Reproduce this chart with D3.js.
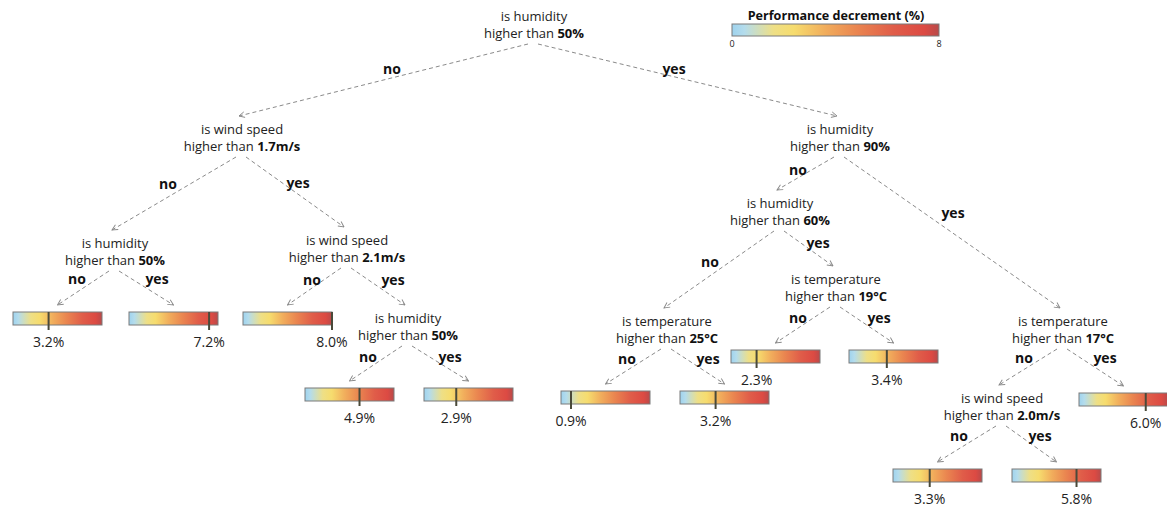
<!DOCTYPE html>
<html><head><meta charset="utf-8">
<script src="https://cdn.jsdelivr.net/npm/d3@7"></script>
<style>
html,body{margin:0;padding:0;background:#fff;}
svg{display:block;font-family:"Open Sans",sans-serif;}
</style></head>
<body><svg id="chart" width="1167" height="508"></svg>
<script>
// ---------- DATA ----------
const nodeIds       = ["root","n1","n2","n3","n4","n5","n6","n7","n8","n9","n10"];
const nodeParents   = [null,"root","root","n1","n1","n4","n2","n2","n6","n6","n7"];
const nodeBranches  = [null,"no","yes","no","yes","yes","no","yes","no","yes","no"];
const nodeFeatures  = ["humidity","wind speed","humidity","humidity","wind speed","humidity","humidity","temperature","temperature","temperature","wind speed"];
const nodeThresholds= ["50%","1.7m/s","90%","50%","2.1m/s","50%","60%","17°C","25°C","19°C","2.0m/s"];

const leafIds       = ["L1","L2","L3","L4","L5","L6","L7","L8","L9","L10","L11","L12"];
const leafParents   = ["n3","n3","n4","n5","n5","n8","n8","n9","n9","n7","n10","n10"];
const leafBranches  = ["no","yes","no","no","yes","no","yes","no","yes","yes","no","yes"];
const leafValues    = [3.2,7.2,8.0,4.9,2.9,0.9,3.2,2.3,3.4,6.0,3.3,5.8];

const legendTitle   = "Performance decrement (%)";
const legendDomain  = [0,8];
const legendTicks   = [0,8];

// ---------- LAYOUT (positions only) ----------
const nodePos = { // [center x, baseline of first line]
  root:[534,21], n1:[242,134], n2:[840,134], n3:[115,248], n4:[347,245],
  n5:[408,323], n6:[780,208], n7:[1063,326], n8:[667,326], n9:[836,284], n10:[1002,403]
};
const leafPos = { // [left x, top y]
  L1:[13,312], L2:[129,312], L3:[243,312], L4:[305,388], L5:[424,388],
  L6:[561,391], L7:[680,391], L8:[731,350], L9:[849,350], L10:[1079,393],
  L11:[893,469], L12:[1012,469]
};
const branchLabelPos = { // keyed by child id
  n1:[392,69], n2:[674,69], n3:[168,184], n4:[298,183], L1:[77,279], L2:[157,279],
  L3:[312,280], n5:[393,280], L4:[368,357], L5:[450,357], n6:[798,170], n7:[953,213],
  n8:[710,262], n9:[818,243], L6:[627,359], L7:[708,359], L8:[798,318], L9:[879,318],
  n10:[1024,358], L10:[1105,358], L11:[959,436], L12:[1040,436]
};
const barW = 89, barH = 13, lineGap = 17;

// ---------- BUILD ----------
const svg = d3.select("#chart");
const defs = svg.append("defs");

const gradStops = [
  [0,"#9fd3ee"],[0.06,"#b4dcec"],[0.2,"#eedf86"],[0.3,"#f6dc6e"],[0.45,"#f1ad5c"],
  [0.6,"#ea8650"],[0.78,"#e05d49"],[0.93,"#dc4a43"],[1,"#b84a4a"]
];
const grad = defs.append("linearGradient").attr("id","pd").attr("x1","0%").attr("x2","100%");
grad.selectAll("stop").data(gradStops).join("stop")
  .attr("offset",d=>d[0]).attr("stop-color",d=>d[1]);

defs.append("marker").attr("id","arr").attr("viewBox","0 0 10 10")
  .attr("refX",9).attr("refY",5).attr("markerWidth",7).attr("markerHeight",7)
  .attr("markerUnits","userSpaceOnUse").attr("orient","auto")
  .append("path").attr("d","M1,1 L9,5 L1,9").attr("fill","none")
  .attr("stroke","#888").attr("stroke-width",1.3);

// hierarchy via stratify
const table = nodeIds.map((id,i)=>({id, parent:nodeParents[i], branch:nodeBranches[i], kind:"node",
                                    feature:nodeFeatures[i], threshold:nodeThresholds[i]}))
  .concat(leafIds.map((id,i)=>({id, parent:leafParents[i], branch:leafBranches[i], kind:"leaf", value:leafValues[i]})));
const root = d3.stratify().id(d=>d.id).parentId(d=>d.parent)(table);

const xv = d3.scaleLinear().domain(legendDomain).range([0,barW]).clamp(true);

// edges
const links = root.links();
function startPt(l){
  const p = nodePos[l.source.id];
  const dx = l.target.data.branch==="no" ? -6 : 4;
  return [p[0]+dx, p[1]+lineGap+6];
}
function endPt(l){
  const t = l.target;
  if (t.data.kind==="node"){ const p=nodePos[t.id]; return [p[0]-3, p[1]-18]; }
  const p = leafPos[t.id]; return [p[0]+barW/2, p[1]-7];
}
svg.append("g").selectAll("line").data(links).join("line")
  .attr("x1",d=>startPt(d)[0]).attr("y1",d=>startPt(d)[1])
  .attr("x2",d=>endPt(d)[0]).attr("y2",d=>endPt(d)[1])
  .attr("stroke","#8a8a8a").attr("stroke-width",1).attr("stroke-dasharray","4,3")
  .attr("marker-end","url(#arr)");

// branch labels
svg.append("g").selectAll("text").data(links).join("text")
  .attr("x",d=>branchLabelPos[d.target.id][0]).attr("y",d=>branchLabelPos[d.target.id][1])
  .attr("dy","0.35em").attr("text-anchor","middle")
  .attr("font-size",14).attr("font-weight","bold").attr("fill","#111")
  .text(d=>d.target.data.branch);

// decision nodes
const nodes = root.descendants().filter(d=>d.data.kind==="node");
const ng = svg.append("g").selectAll("g").data(nodes).join("g")
  .attr("transform",d=>`translate(${nodePos[d.id][0]},${nodePos[d.id][1]})`);
ng.append("text").attr("text-anchor","middle").attr("font-size",13).attr("fill","#222")
  .text(d=>"is "+d.data.feature);
const l2 = ng.append("text").attr("y",lineGap).attr("text-anchor","middle").attr("font-size",13).attr("fill","#222");
l2.append("tspan").text("higher than ");
l2.append("tspan").attr("font-weight","bold").attr("fill","#111").text(d=>d.data.threshold);

// leaves
const leaves = root.leaves();
const lg = svg.append("g").selectAll("g").data(leaves).join("g")
  .attr("transform",d=>`translate(${leafPos[d.id][0]},${leafPos[d.id][1]})`);
lg.append("rect").attr("width",barW).attr("height",barH).attr("fill","url(#pd)")
  .attr("stroke","#7a7a7a").attr("stroke-width",1);
lg.append("line").attr("x1",d=>xv(d.data.value)).attr("x2",d=>xv(d.data.value))
  .attr("y1",0).attr("y2",barH+5).attr("stroke","#4a4a3a").attr("stroke-width",2);
lg.append("text").attr("x",d=>xv(d.data.value)).attr("y",barH+22)
  .attr("text-anchor","middle").attr("font-size",14).attr("fill","#222")
  .text(d=>d3.format(".1f")(d.data.value)+"%");

// legend
const legX = 732, legY = 24, legW = 207, legH = 12;
const lx = d3.scaleLinear().domain(legendDomain).range([legX, legX+legW]);
svg.append("text").attr("x",836).attr("y",20).attr("text-anchor","middle")
  .attr("font-size",12.6).attr("font-weight","bold").attr("fill","#111").text(legendTitle);
svg.append("rect").attr("x",legX).attr("y",legY).attr("width",legW).attr("height",legH)
  .attr("fill","url(#pd)").attr("stroke","#7a7a7a").attr("stroke-width",1);
svg.append("g").selectAll("text").data(legendTicks).join("text")
  .attr("x",d=>lx(d)).attr("y",47).attr("text-anchor","middle")
  .attr("font-size",9).attr("fill","#222").text(d=>d);
</script></body></html>
